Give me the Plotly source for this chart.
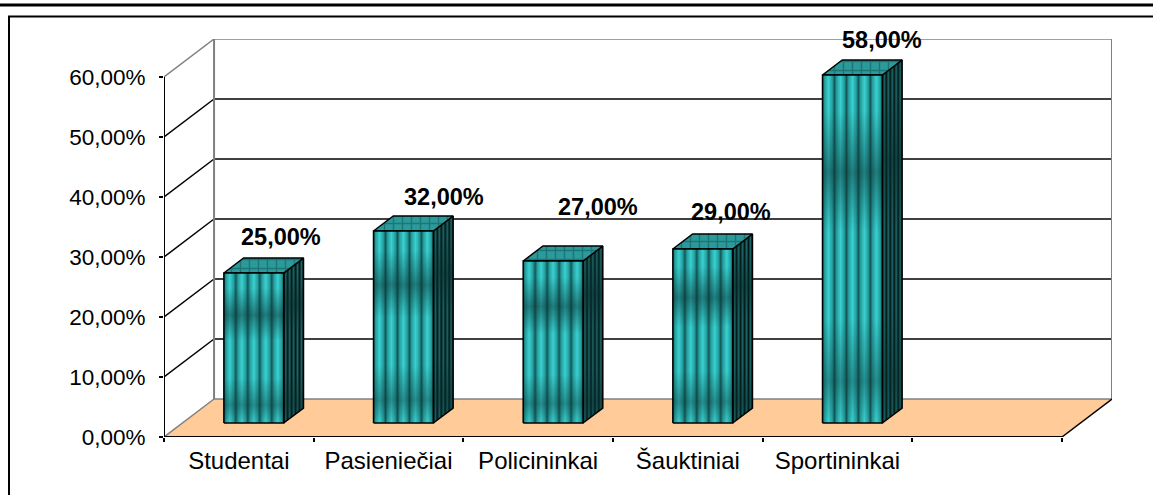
import plotly.graph_objects as go

# ---------------- data ----------------
categories = ["Studentai", "Pasieniečiai", "Policininkai", "Šauktiniai", "Sportininkai"]
values = [25.0, 32.0, 27.0, 29.0, 58.0]
value_labels = ["25,00%", "32,00%", "27,00%", "29,00%", "58,00%"]
y_ticks = [0, 10, 20, 30, 40, 50, 60]
y_tick_labels = ["0,00%", "10,00%", "20,00%", "30,00%", "40,00%", "50,00%", "60,00%"]
n_slots = 6  # category slots on the axis (last one empty)

# ---------------- style ----------------
DX = 0.3344      # depth offset in category units
DY = 6.333       # depth offset in percent units
F0, F1 = 0.368, 0.763   # bar depth fractions
BAR_W = 0.40
BAR_SHIFT = 0.10
label_dx = [0.28, 0.37, 0.40, 0.29, 0.30]
label_dy = [8.3, 8.0, 11.3, 8.5, 8.2]
FONT = "Liberation Sans, Arial, sans-serif"
GRAY = "#808080"
YMAX = y_ticks[-1]


def stripes(n, dark, mid, light):
    cs = []
    for k in range(n):
        a = k / n
        w = 1.0 / n
        cs += [[a, dark], [a + 0.18 * w, mid], [a + 0.5 * w, light], [a + 0.82 * w, mid]]
    cs.append([1.0, dark])
    return cs


front_cs = stripes(5, "#145656", "#249E9E", "#3AD0D0")
side_cs = stripes(5, "#031616", "#0C3434", "#1D6666")
band_cs = [[0.0, "rgba(8,45,45,0.0)"], [0.12, "rgba(8,45,45,0.4)"], [0.3, "rgba(8,45,45,0.0)"],
           [0.55, "rgba(8,45,45,0.0)"], [0.72, "rgba(8,45,45,0.5)"], [0.9, "rgba(8,45,45,0.0)"],
           [1.0, "rgba(8,45,45,0.0)"]]

fig = go.Figure()

ddx = (F1 - F0) * DX
ddy = (F1 - F0) * DY
yb = F0 * DY
for i, v in enumerate(values):
    x0 = i + BAR_SHIFT - BAR_W / 2
    x1 = i + BAR_SHIFT + BAR_W / 2
    yt = yb + v
    side_x = [x1, x1 + ddx, x1 + ddx, x1, x1]
    side_y = [yb, yb + ddy, yt + ddy, yt, yb]
    top_x = [x0, x1, x1 + ddx, x0 + ddx, x0]
    top_y = [yt, yt, yt + ddy, yt + ddy, yt]
    front_x = [x0, x1, x1, x0, x0]
    front_y = [yb, yb, yt, yt, yb]
    common = dict(mode="lines", fill="toself", hoverinfo="skip", showlegend=False)
    fig.add_trace(go.Scatter(x=side_x, y=side_y, line=dict(width=0, color="black"),
                             fillgradient=dict(type="horizontal", colorscale=side_cs), **common))
    fig.add_trace(go.Scatter(x=side_x, y=side_y, line=dict(width=1.5, color="black"),
                             fillgradient=dict(type="vertical", colorscale=band_cs), **common))
    fig.add_trace(go.Scatter(x=top_x, y=top_y, line=dict(width=1.5, color="black"),
                             fillcolor="#2A9696",
                             fillpattern=dict(shape="+", bgcolor="#2B9A9A", fgcolor="#124F50",
                                              size=9, solidity=0.3), **common))
    fig.add_trace(go.Scatter(x=front_x, y=front_y, line=dict(width=0, color="black"),
                             fillgradient=dict(type="horizontal", colorscale=front_cs), **common))
    fig.add_trace(go.Scatter(x=front_x, y=front_y, line=dict(width=1.5, color="black"),
                             fillgradient=dict(type="vertical", colorscale=band_cs), **common))

# ---------------- walls, floor, grid ----------------
L, R = -0.5, n_slots - 0.5
shapes = []
shapes.append(dict(type="path", layer="below", xref="x", yref="y",
                   path=f"M {L},0 L {R},0 L {R+DX},{DY} L {L+DX},{DY} Z",
                   fillcolor="#FFCC99", line=dict(width=0)))
for t in y_ticks:
    col = GRAY if t in (0, YMAX) else "black"
    shapes.append(dict(type="line", layer="below", xref="x", yref="y",
                       x0=L + DX, x1=R + DX, y0=t + DY, y1=t + DY, line=dict(color=col, width=1.5)))
    shapes.append(dict(type="line", layer="below", xref="x", yref="y",
                       x0=L, x1=L + DX, y0=t, y1=t + DY, line=dict(color=col, width=1.5)))
for xe in (L + DX, R + DX):
    shapes.append(dict(type="line", layer="below", xref="x", yref="y",
                       x0=xe, x1=xe, y0=DY, y1=YMAX + DY, line=dict(color=GRAY, width=2)))
shapes.append(dict(type="line", xref="x", yref="y", x0=R, x1=R + DX, y0=0, y1=DY,
                   line=dict(color="black", width=1.5)))
shapes.append(dict(type="line", xref="x", yref="y", x0=L, x1=L, y0=0, y1=YMAX,
                   line=dict(color="black", width=2)))
shapes.append(dict(type="line", xref="x", yref="y", x0=L, x1=R, y0=0, y1=0,
                   line=dict(color="black", width=2)))
# outer frame
shapes.append(dict(type="line", xref="paper", yref="paper", x0=-0.18, x1=1.05, y0=1.0855, y1=1.0855,
                   line=dict(color="black", width=3)))
shapes.append(dict(type="path", xref="paper", yref="paper",
                   path="M 1.06,1.0565 L -0.1635,1.0565 L -0.1635,-0.2",
                   line=dict(color="black", width=2)))

annotations = []
for i, (v, lab) in enumerate(zip(values, value_labels)):
    annotations.append(dict(x=i + label_dx[i], y=v + label_dy[i], xref="x", yref="y",
                            text=lab, showarrow=False,
                            font=dict(family=FONT, size=23.5, color="black", weight="bold")))

fig.update_layout(
    width=1153, height=495, autosize=False,
    margin=dict(l=164, r=41, t=39, b=58, pad=0),
    paper_bgcolor="white", plot_bgcolor="white",
    shapes=shapes, annotations=annotations,
    font=dict(family=FONT, size=22, color="black"),
    xaxis=dict(range=[L, R + DX], showgrid=False, zeroline=False, showline=False,
               tickmode="array", tickvals=list(range(len(categories))), ticktext=categories,
               ticks="", ticklabelstandoff=7, fixedrange=True,
               tickfont=dict(family=FONT, size=24, color="black"),
               minor=dict(tickmode="array", tickvals=[L + k for k in range(n_slots + 1)],
                          ticks="outside", ticklen=4, tickwidth=2, tickcolor="black")),
    yaxis=dict(range=[0, YMAX + DY], showgrid=False, zeroline=False, showline=False,
               tickmode="array", tickvals=y_ticks, ticktext=y_tick_labels,
               ticks="outside", ticklen=4, tickwidth=2, tickcolor="black",
               tickfont=dict(family=FONT, size=22.5, color="black"),
               ticklabelstandoff=9, fixedrange=True),
)

fig.write_html("out.html", config={"displayModeBar": False},
               post_script="document.body.style.margin='0px';document.body.style.overflow='hidden';")
